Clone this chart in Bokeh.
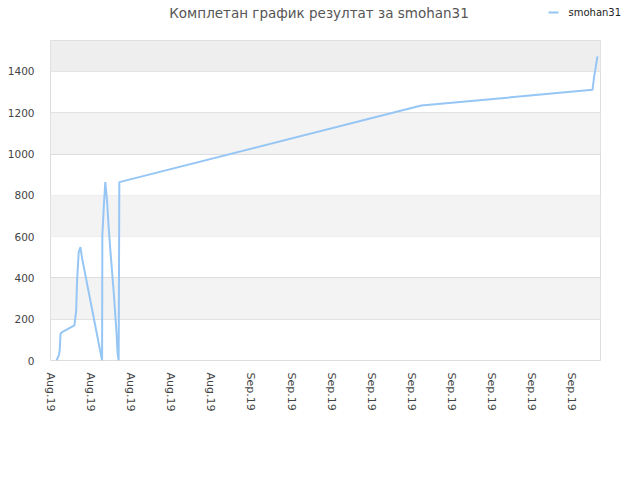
from bokeh.plotting import figure
from bokeh.models import Range1d, FixedTicker, BoxAnnotation
from bokeh.layouts import column
from bokeh.core.properties import value
from bokeh.embed import file_html
from bokeh.resources import INLINE

# x: days since 17 Aug 2019
days = [0.45, 0.62, 0.69, 0.75, 0.87, 1.79, 1.92, 1.99, 2.11, 2.24, 2.37, 3.86, 3.88,
        3.98, 4.10, 4.23, 4.35, 4.48, 4.72, 4.93, 5.02, 5.10, 5.15, 27.74, 40.55, 40.67, 40.92]
results = [0, 24, 48, 130, 137, 170, 242, 388, 525, 549, 493, 0, 605,
           737, 864, 775, 646, 533, 339, 145, 34, 0, 864, 1235, 1311, 1373, 1473]

tick_days = [0, 3, 6, 9, 12, 15, 18, 21, 24, 27, 30, 33, 36, 39]
tick_labels = ["Aug.19", "Aug.19", "Aug.19", "Aug.19", "Aug.19",
               "Sep.19", "Sep.19", "Sep.19", "Sep.19", "Sep.19",
               "Sep.19", "Sep.19", "Sep.19", "Sep.19"]
y_ticks = [0, 200, 400, 600, 800, 1000, 1200, 1400]
bands = [(200, 400), (600, 800), (1000, 1200)]
top_band = (1400, 1550)

title_text = "Комплетан график резултат за smohan31"
series_name = "smohan31"
line_color = "#96c6f5"

W, H, HEAD = 624, 464, 40

# header: title + legend
head = figure(width=W, height=HEAD, output_backend="svg", toolbar_location=None,
              x_range=Range1d(0, W), y_range=Range1d(HEAD, 0),
              x_axis_location=None, y_axis_location=None, min_border=0)
head.frame_align = False
head.outline_line_color = None
head.xgrid.grid_line_color = None
head.ygrid.grid_line_color = None
head.text(x=[318.5], y=[12], text=[title_text], text_align="center",
          text_baseline="middle", text_font=value("DejaVu Sans"),
          text_font_size="13.5px", text_color="#555555")
head.line(x=[548, 558], y=[12, 12], line_color=line_color, line_width=2)
head.text(x=[568], y=[12], text=[series_name], text_align="left",
          text_baseline="middle", text_font=value("DejaVu Sans"),
          text_font_size="10px", text_color="#222222")

p = figure(width=W, height=H - HEAD, output_backend="svg", toolbar_location=None,
           x_range=Range1d(0, 41.15), y_range=Range1d(0, 1550),
           min_border_left=50, min_border_right=24, min_border_top=0,
           min_border_bottom=104)
p.frame_align = False
p.outline_line_color = "#dddddd"
p.background_fill_color = "white"
p.border_fill_color = "white"

for lo, hi in bands:
    p.add_layout(BoxAnnotation(bottom=lo, top=hi, fill_color="#f3f3f3", fill_alpha=1,
                               line_color=None, level="underlay"))
p.add_layout(BoxAnnotation(bottom=top_band[0], top=top_band[1], fill_color="#eeeeee",
                           fill_alpha=1, line_color=None, level="underlay"))

p.xgrid.grid_line_color = None
p.ygrid.grid_line_color = "#dddddd"
p.ygrid.ticker = FixedTicker(ticks=y_ticks)

p.yaxis.ticker = FixedTicker(ticks=y_ticks)
p.yaxis.axis_line_color = None
p.yaxis.major_tick_line_color = None
p.yaxis.minor_tick_line_color = None
p.yaxis.major_label_standoff = 10
p.yaxis.major_label_text_font = "DejaVu Sans"
p.yaxis.major_label_text_font_size = "10.5px"
p.yaxis.major_label_text_color = "#444444"

p.xaxis.ticker = FixedTicker(ticks=tick_days)
p.xaxis.major_label_overrides = {t: l for t, l in zip(tick_days, tick_labels)}
p.xaxis.major_label_orientation = "vertical"
p.xaxis.axis_line_color = None
p.xaxis.major_tick_line_color = None
p.xaxis.minor_tick_line_color = None
p.xaxis.major_label_standoff = 6
p.xaxis.major_label_text_font = "DejaVu Sans"
p.xaxis.major_label_text_font_size = "11px"
p.xaxis.major_label_text_color = "#444444"

p.line(days, results, line_color=line_color, line_width=2)

open("out.html", "w").write(file_html(column(head, p, spacing=0), INLINE))
